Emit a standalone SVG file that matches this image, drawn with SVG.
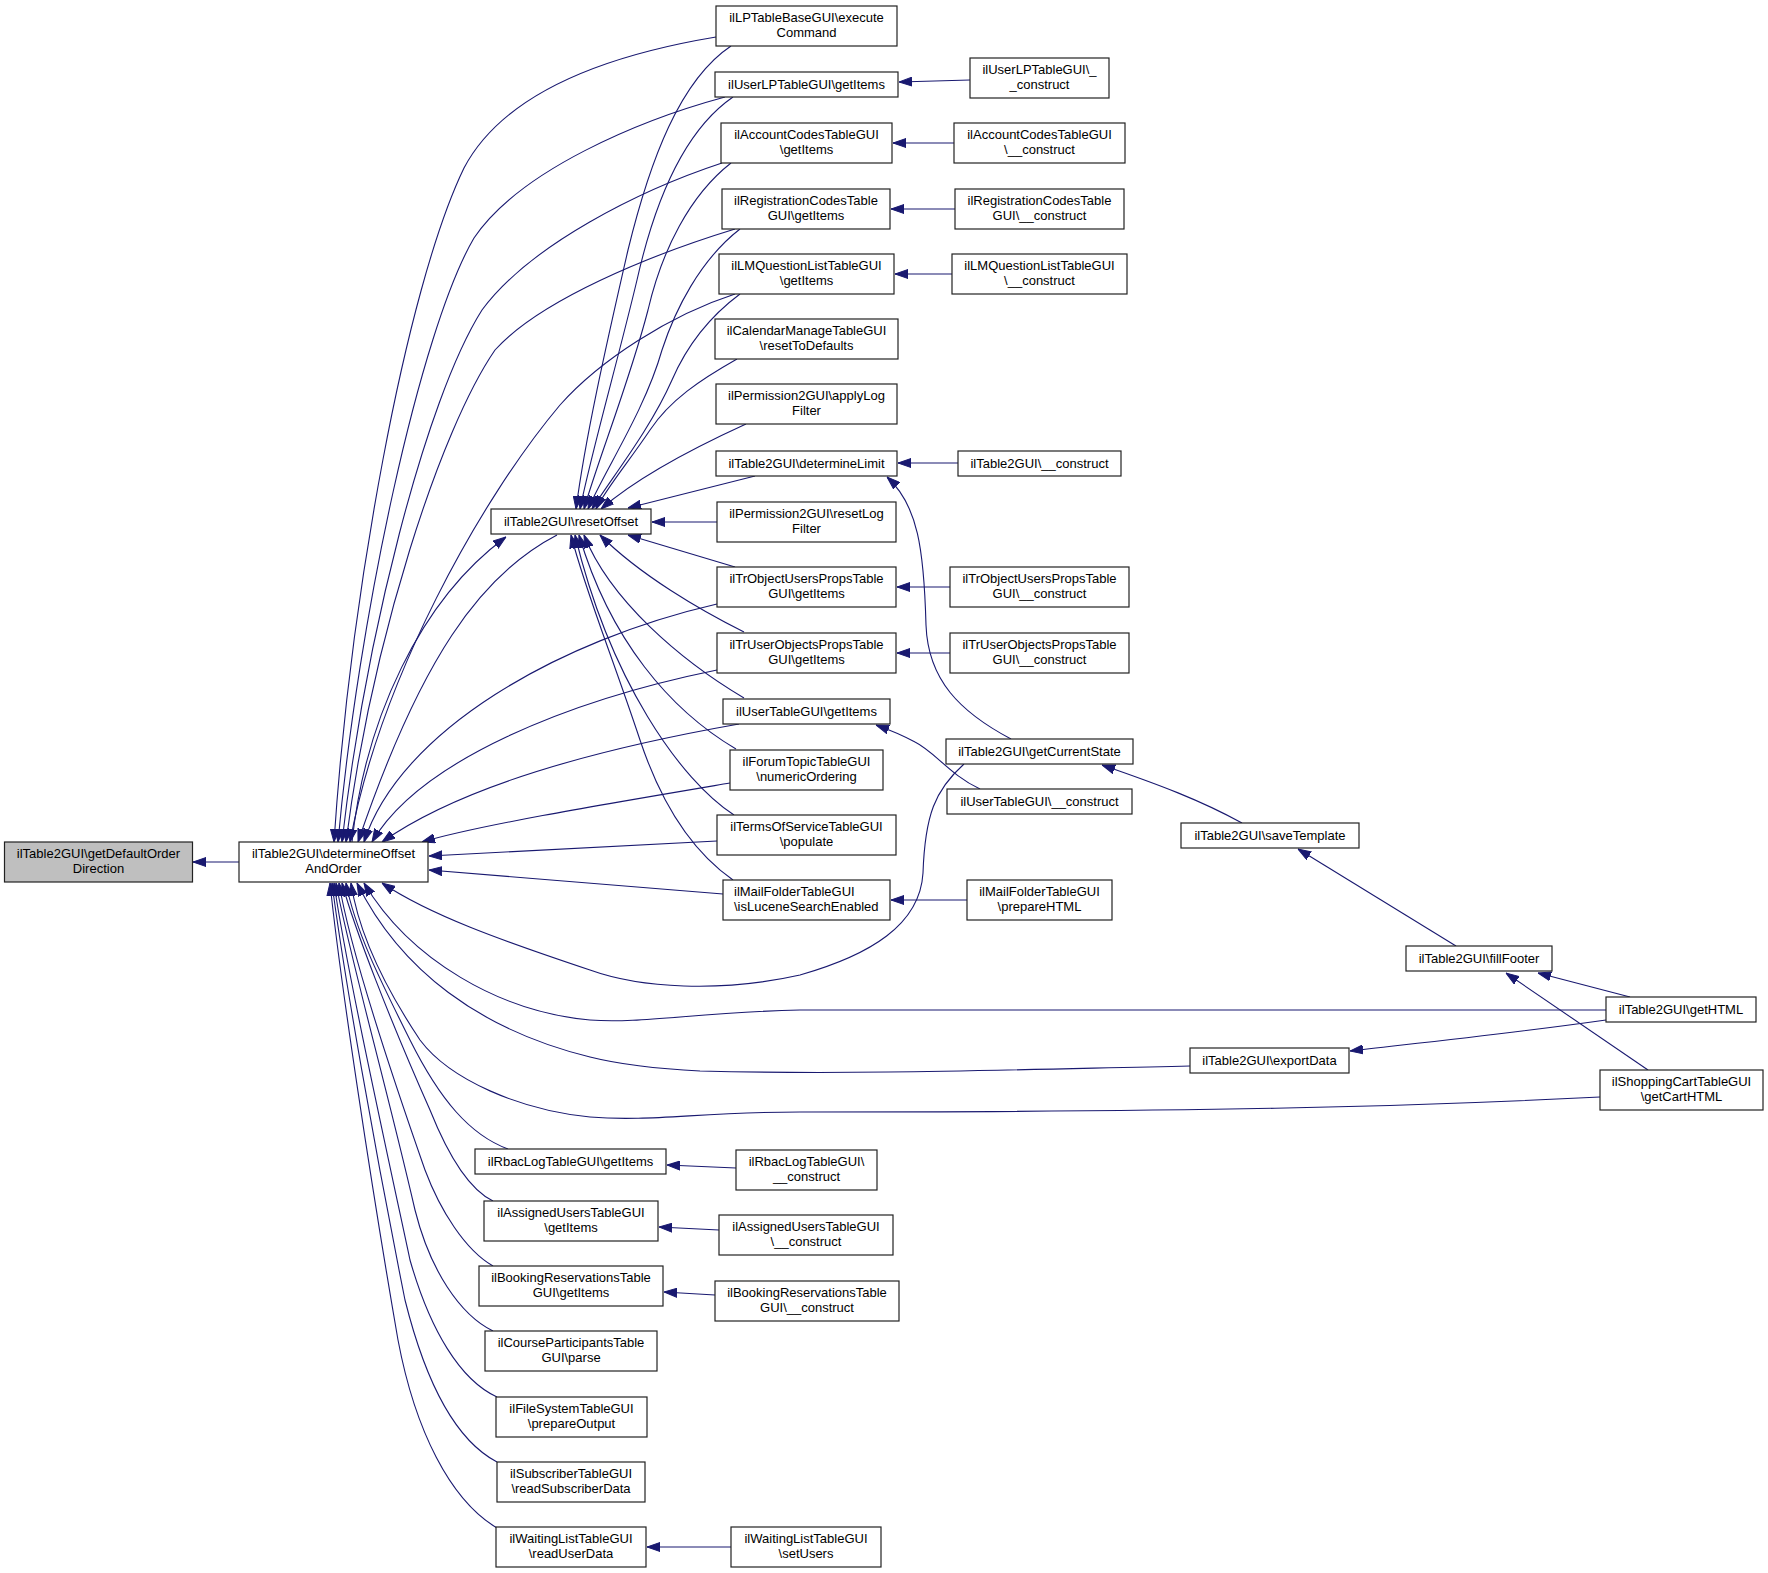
<svg xmlns="http://www.w3.org/2000/svg" width="1768" height="1573" viewBox="0 0 1768 1573">
<defs>
<style>
.n rect{fill:#fff;stroke:#222;stroke-width:1.2}
.n rect.hl{fill:#bfbfbf}
text{font-family:"Liberation Sans",Arial,Helvetica,sans-serif;font-size:13px;text-anchor:middle;fill:#000}
text.l{text-anchor:start}
.e path{fill:none;stroke:#191970;stroke-width:1.1;marker-end:url(#a)}
</style>
<marker id="a" markerUnits="userSpaceOnUse" markerWidth="13" markerHeight="10" refX="13" refY="5" orient="auto" viewBox="0 0 13 10"><path d="M0,0.5 L13,5 L0,9.5 z" fill="#191970" stroke="#191970" stroke-width="1"/></marker>
</defs>
<rect width="1768" height="1573" fill="#fff"/>
<g class="e" id="edges">
<path d="M239,862 L193,862"/>
<path d="M716,37 C590,58 500,100 464,168 C405,290 350,600 334,842"/>
<path d="M725,97 C640,120 520,170 474,238 C420,330 358,620 338,842"/>
<path d="M722,163 C640,190 530,245 482,310 C425,400 365,640 342,842"/>
<path d="M735,229 C650,255 540,300 495,350 C440,430 372,640 346,842"/>
<path d="M735,294 C670,315 600,360 560,405 C480,500 380,680 350,842"/>
<path d="M557,535 C480,575 420,660 358,842"/>
<path d="M352,842 C365,720 420,600 506,537"/>
<path d="M717,604 C560,640 400,730 364,842"/>
<path d="M717,670 C570,700 420,760 372,842"/>
<path d="M739,724 C620,745 470,780 382,842"/>
<path d="M730,783 C600,805 480,825 422,842"/>
<path d="M717,841 L429,856"/>
<path d="M723,894 L429,870"/>
<path d="M964,764 C935,790 925,815 923,873 C920,925 870,955 800,975 C720,993 640,988 590,970 C500,940 430,915 382,883"/>
<path d="M1606,1010 L800,1010 C700,1012 640,1024 590,1020 C500,1012 410,960 364,883"/>
<path d="M1190,1066 C1000,1070 850,1075 700,1071 C640,1068 610,1062 590,1057 C480,1030 400,970 357,883"/>
<path d="M1600,1097 C1400,1107 1200,1112 800,1112 C700,1112 650,1122 590,1117 C520,1110 450,1080 420,1040 C380,980 358,930 351,883"/>
<path d="M508,1149 C470,1135 440,1100 410,1040 C380,980 355,930 346,883"/>
<path d="M493,1201 C470,1190 450,1160 430,1110 C390,1020 355,930 342,883"/>
<path d="M493,1266 C465,1250 440,1210 425,1170 C390,1070 350,950 339,883"/>
<path d="M493,1331 C460,1315 430,1270 415,1210 C385,1080 348,950 336,883"/>
<path d="M497,1397 C460,1380 430,1330 410,1260 C380,1120 345,960 334,883"/>
<path d="M497,1462 C455,1440 425,1380 405,1300 C375,1150 343,970 332,883"/>
<path d="M497,1528 C450,1500 415,1430 398,1340 C372,1190 340,980 330,883"/>
<path d="M731,46 C680,80 650,160 628,250 C605,350 585,440 576,509"/>
<path d="M733,97 C685,130 655,200 637,280 C618,360 592,450 580,509"/>
<path d="M731,163 C690,195 662,250 648,310 C630,380 598,460 584,509"/>
<path d="M740,229 C700,260 675,310 662,350 C645,410 605,470 588,509"/>
<path d="M740,294 C705,320 685,350 672,380 C650,430 610,480 592,509"/>
<path d="M737,359 C700,380 670,400 650,430 C630,460 605,490 596,509"/>
<path d="M746,424 C700,445 640,475 601,509"/>
<path d="M755,476 L628,508"/>
<path d="M717,522 L652,522"/>
<path d="M735,567 L628,535"/>
<path d="M744,632 C700,610 640,575 600,535"/>
<path d="M744,698 C680,660 610,600 584,535"/>
<path d="M736,749 C670,710 610,640 579,535"/>
<path d="M734,815 C680,780 610,680 575,535"/>
<path d="M733,880 C690,850 660,800 640,740 C610,650 585,590 571,535"/>
<path d="M970,80 L899,82"/>
<path d="M954,143 L893,143"/>
<path d="M955,209 L891,209"/>
<path d="M952,274 L895,274"/>
<path d="M958,463 L898,463"/>
<path d="M1011,739 C960,712 928,680 926,625 C924,550 918,505 887,477"/>
<path d="M950,587 L897,587"/>
<path d="M950,653 L897,653"/>
<path d="M980,789 C950,775 935,752 915,742 C900,734 890,730 876,725"/>
<path d="M1242,823 C1200,800 1160,785 1102,765"/>
<path d="M967,900 L891,900"/>
<path d="M1456,946 L1298,849"/>
<path d="M1630,997 L1538,973"/>
<path d="M1648,1070 L1506,973"/>
<path d="M1606,1020 C1500,1035 1400,1045 1350,1051"/>
<path d="M736,1168 L667,1165"/>
<path d="M719,1230 L659,1227"/>
<path d="M715,1295 L664,1292"/>
<path d="M731,1547 L647,1547"/>
</g>
<g class="n" id="getDefaultOrderDirection"><rect class="hl" x="4.5" y="842" width="188" height="40"/><text x="98.5" y="858">ilTable2GUI\getDefaultOrder</text><text x="98.5" y="873">Direction</text></g>
<g class="n" id="determineOffsetAndOrder"><rect x="239" y="842" width="189" height="40"/><text x="333.5" y="858">ilTable2GUI\determineOffset</text><text x="333.5" y="873">AndOrder</text></g>
<g class="n" id="resetOffset"><rect x="491" y="509" width="160" height="25"/><text x="571" y="526">ilTable2GUI\resetOffset</text></g>
<g class="n" id="lpExecuteCommand"><rect x="716" y="6" width="181" height="40"/><text x="806.5" y="22">ilLPTableBaseGUI\execute</text><text x="806.5" y="37">Command</text></g>
<g class="n" id="userLPGetItems"><rect x="715" y="72" width="183" height="25"/><text x="806.5" y="89">ilUserLPTableGUI\getItems</text></g>
<g class="n" id="userLPConstruct"><rect x="970" y="58" width="139" height="40"/><text x="1039.5" y="74">ilUserLPTableGUI\_</text><text x="1039.5" y="89">_construct</text></g>
<g class="n" id="accountGetItems"><rect x="721" y="123" width="171" height="40"/><text x="806.5" y="139">ilAccountCodesTableGUI</text><text x="806.5" y="154">\getItems</text></g>
<g class="n" id="accountConstruct"><rect x="954" y="123" width="171" height="40"/><text x="1039.5" y="139">ilAccountCodesTableGUI</text><text x="1039.5" y="154">\__construct</text></g>
<g class="n" id="regGetItems"><rect x="722" y="189" width="168" height="40"/><text x="806" y="205">ilRegistrationCodesTable</text><text x="806" y="220">GUI\getItems</text></g>
<g class="n" id="regConstruct"><rect x="955" y="189" width="169" height="40"/><text x="1039.5" y="205">ilRegistrationCodesTable</text><text x="1039.5" y="220">GUI\__construct</text></g>
<g class="n" id="lmGetItems"><rect x="719" y="254" width="175" height="40"/><text x="806.5" y="270">ilLMQuestionListTableGUI</text><text x="806.5" y="285">\getItems</text></g>
<g class="n" id="lmConstruct"><rect x="952" y="254" width="175" height="40"/><text x="1039.5" y="270">ilLMQuestionListTableGUI</text><text x="1039.5" y="285">\__construct</text></g>
<g class="n" id="calReset"><rect x="715" y="319" width="183" height="40"/><text x="806.5" y="335">ilCalendarManageTableGUI</text><text x="806.5" y="350">\resetToDefaults</text></g>
<g class="n" id="permApply"><rect x="716" y="384" width="181" height="40"/><text x="806.5" y="400">ilPermission2GUI\applyLog</text><text x="806.5" y="415">Filter</text></g>
<g class="n" id="determineLimit"><rect x="716" y="451" width="181" height="25"/><text x="806.5" y="468">ilTable2GUI\determineLimit</text></g>
<g class="n" id="table2Construct"><rect x="958" y="451" width="163" height="25"/><text x="1039.5" y="468">ilTable2GUI\__construct</text></g>
<g class="n" id="permReset"><rect x="717" y="502" width="179" height="40"/><text x="806.5" y="518">ilPermission2GUI\resetLog</text><text x="806.5" y="533">Filter</text></g>
<g class="n" id="trObjGetItems"><rect x="717" y="567" width="179" height="40"/><text x="806.5" y="583">ilTrObjectUsersPropsTable</text><text x="806.5" y="598">GUI\getItems</text></g>
<g class="n" id="trObjConstruct"><rect x="950" y="567" width="179" height="40"/><text x="1039.5" y="583">ilTrObjectUsersPropsTable</text><text x="1039.5" y="598">GUI\__construct</text></g>
<g class="n" id="trUserGetItems"><rect x="717" y="633" width="179" height="40"/><text x="806.5" y="649">ilTrUserObjectsPropsTable</text><text x="806.5" y="664">GUI\getItems</text></g>
<g class="n" id="trUserConstruct"><rect x="950" y="633" width="179" height="40"/><text x="1039.5" y="649">ilTrUserObjectsPropsTable</text><text x="1039.5" y="664">GUI\__construct</text></g>
<g class="n" id="userTableGetItems"><rect x="723" y="699" width="167" height="25"/><text x="806.5" y="716">ilUserTableGUI\getItems</text></g>
<g class="n" id="getCurrentState"><rect x="946" y="739" width="187" height="25"/><text x="1039.5" y="756">ilTable2GUI\getCurrentState</text></g>
<g class="n" id="forumNumeric"><rect x="730" y="750" width="153" height="40"/><text x="806.5" y="766">ilForumTopicTableGUI</text><text x="806.5" y="781">\numericOrdering</text></g>
<g class="n" id="userTableConstruct"><rect x="947" y="789" width="185" height="25"/><text x="1039.5" y="806">ilUserTableGUI\__construct</text></g>
<g class="n" id="termsPopulate"><rect x="717" y="815" width="179" height="40"/><text x="806.5" y="831">ilTermsOfServiceTableGUI</text><text x="806.5" y="846">\populate</text></g>
<g class="n" id="mailLucene"><rect x="723" y="880" width="167" height="40"/><text class="l" x="734" y="896">ilMailFolderTableGUI</text><text class="l" x="734" y="911">\isLuceneSearchEnabled</text></g>
<g class="n" id="mailPrepare"><rect x="967" y="880" width="145" height="40"/><text x="1039.5" y="896">ilMailFolderTableGUI</text><text x="1039.5" y="911">\prepareHTML</text></g>
<g class="n" id="saveTemplate"><rect x="1181" y="823" width="178" height="25"/><text x="1270" y="840">ilTable2GUI\saveTemplate</text></g>
<g class="n" id="fillFooter"><rect x="1406" y="946" width="146" height="25"/><text x="1479" y="963">ilTable2GUI\fillFooter</text></g>
<g class="n" id="getHTML"><rect x="1606" y="997" width="150" height="25"/><text x="1681" y="1014">ilTable2GUI\getHTML</text></g>
<g class="n" id="exportData"><rect x="1190" y="1048" width="159" height="25"/><text x="1269.5" y="1065">ilTable2GUI\exportData</text></g>
<g class="n" id="cartHTML"><rect x="1600" y="1070" width="163" height="40"/><text x="1681.5" y="1086">ilShoppingCartTableGUI</text><text x="1681.5" y="1101">\getCartHTML</text></g>
<g class="n" id="rbacGetItems"><rect x="475" y="1149" width="191" height="25"/><text x="570.5" y="1166">ilRbacLogTableGUI\getItems</text></g>
<g class="n" id="rbacConstruct"><rect x="736" y="1150" width="141" height="40"/><text x="806.5" y="1166">ilRbacLogTableGUI\</text><text x="806.5" y="1181">__construct</text></g>
<g class="n" id="assignedGetItems"><rect x="484" y="1201" width="174" height="40"/><text x="571" y="1217">ilAssignedUsersTableGUI</text><text x="571" y="1232">\getItems</text></g>
<g class="n" id="assignedConstruct"><rect x="719" y="1215" width="174" height="40"/><text x="806" y="1231">ilAssignedUsersTableGUI</text><text x="806" y="1246">\__construct</text></g>
<g class="n" id="bookingGetItems"><rect x="479" y="1266" width="184" height="40"/><text x="571" y="1282">ilBookingReservationsTable</text><text x="571" y="1297">GUI\getItems</text></g>
<g class="n" id="bookingConstruct"><rect x="715" y="1281" width="184" height="40"/><text x="807" y="1297">ilBookingReservationsTable</text><text x="807" y="1312">GUI\__construct</text></g>
<g class="n" id="courseParse"><rect x="485" y="1331" width="172" height="40"/><text x="571" y="1347">ilCourseParticipantsTable</text><text x="571" y="1362">GUI\parse</text></g>
<g class="n" id="fileSystemPrepare"><rect x="496" y="1397" width="151" height="40"/><text x="571.5" y="1413">ilFileSystemTableGUI</text><text x="571.5" y="1428">\prepareOutput</text></g>
<g class="n" id="subscriberRead"><rect x="497" y="1462" width="148" height="40"/><text x="571" y="1478">ilSubscriberTableGUI</text><text x="571" y="1493">\readSubscriberData</text></g>
<g class="n" id="waitingRead"><rect x="496" y="1527" width="150" height="40"/><text x="571" y="1543">ilWaitingListTableGUI</text><text x="571" y="1558">\readUserData</text></g>
<g class="n" id="waitingSetUsers"><rect x="731" y="1527" width="150" height="40"/><text x="806" y="1543">ilWaitingListTableGUI</text><text x="806" y="1558">\setUsers</text></g>
</svg>
